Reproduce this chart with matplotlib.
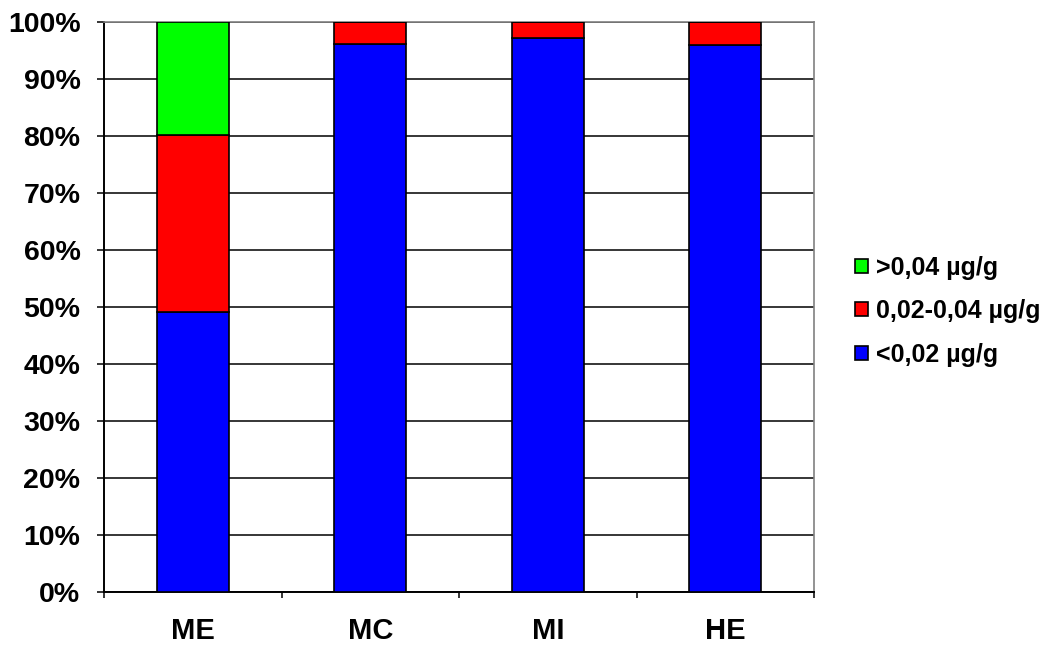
import numpy as np
import matplotlib.pyplot as plt

plt.rcParams['font.family'] = ['Liberation Sans', 'DejaVu Sans']
plt.rcParams['font.weight'] = 'bold'

# ------------------------------------------------------------
# Data
# ------------------------------------------------------------

categories = ["ME", "MC", "MI", "HE"]
low = [49.2, 96.1, 97.2, 96.0]      # <0,02 µg/g
mid = [31.0, 3.9, 2.8, 4.0]         # 0,02-0,04 µg/g
high = [19.8, 0.0, 0.0, 0.0]        # >0,04 µg/g

labels = ["<0,02 µg/g", "0,02-0,04 µg/g", ">0,04 µg/g"]
colors = ["#0000ff", "#ff0000", "#00ff00"]

# ------------------------------------------------------------
# Plot
# ------------------------------------------------------------

fig = plt.figure(figsize=(10.54, 6.47), dpi=100)
ax = fig.add_axes([0.0987, 0.085, 0.6736, 0.881])

x = np.arange(len(categories))
width = 0.405

bottom = np.zeros(len(categories))
handles = []
for vals, lab, col in zip([low, mid, high], labels, colors):
    vals = np.array(vals)
    h = ax.bar(x, vals, width, bottom=bottom, color=col,
               edgecolor="black", linewidth=1.2, label=lab, zorder=3)
    handles.append(h)
    bottom += vals

ax.set_xlim(-0.5, len(categories) - 0.5)
ax.set_ylim(0, 100)

ax.set_yticks(np.arange(0, 101, 10))
ax.set_yticklabels([f"{v}%" for v in range(0, 101, 10)], fontsize=20.5)
ax.yaxis.grid(True, color="black", linewidth=1.1, zorder=0)

ax.set_xticks(x)
ax.set_xticklabels(categories, fontsize=21)
ax.tick_params(axis="x", length=0, pad=18)
ax.set_xticks(np.arange(-0.5, len(categories), 1.0), minor=True)
ax.tick_params(axis="x", which="minor", length=4.5, width=1.1, direction="out")
ax.tick_params(axis="y", length=5, width=1.1, direction="out", pad=12)

ax.spines["left"].set_linewidth(1.4)
ax.spines["bottom"].set_linewidth(1.4)
ax.spines["top"].set_color("#808080")
ax.spines["right"].set_color("#808080")
ax.spines["top"].set_linewidth(1.2)
ax.spines["right"].set_linewidth(1.2)

leg = fig.legend(handles[::-1], labels[::-1], loc="center left",
                 bbox_to_anchor=(0.79, 0.519), frameon=False,
                 fontsize=18, handlelength=0.5, handleheight=0.5,
                 handletextpad=0.35, labelspacing=0.78)

plt.savefig("out.png", dpi=100)
